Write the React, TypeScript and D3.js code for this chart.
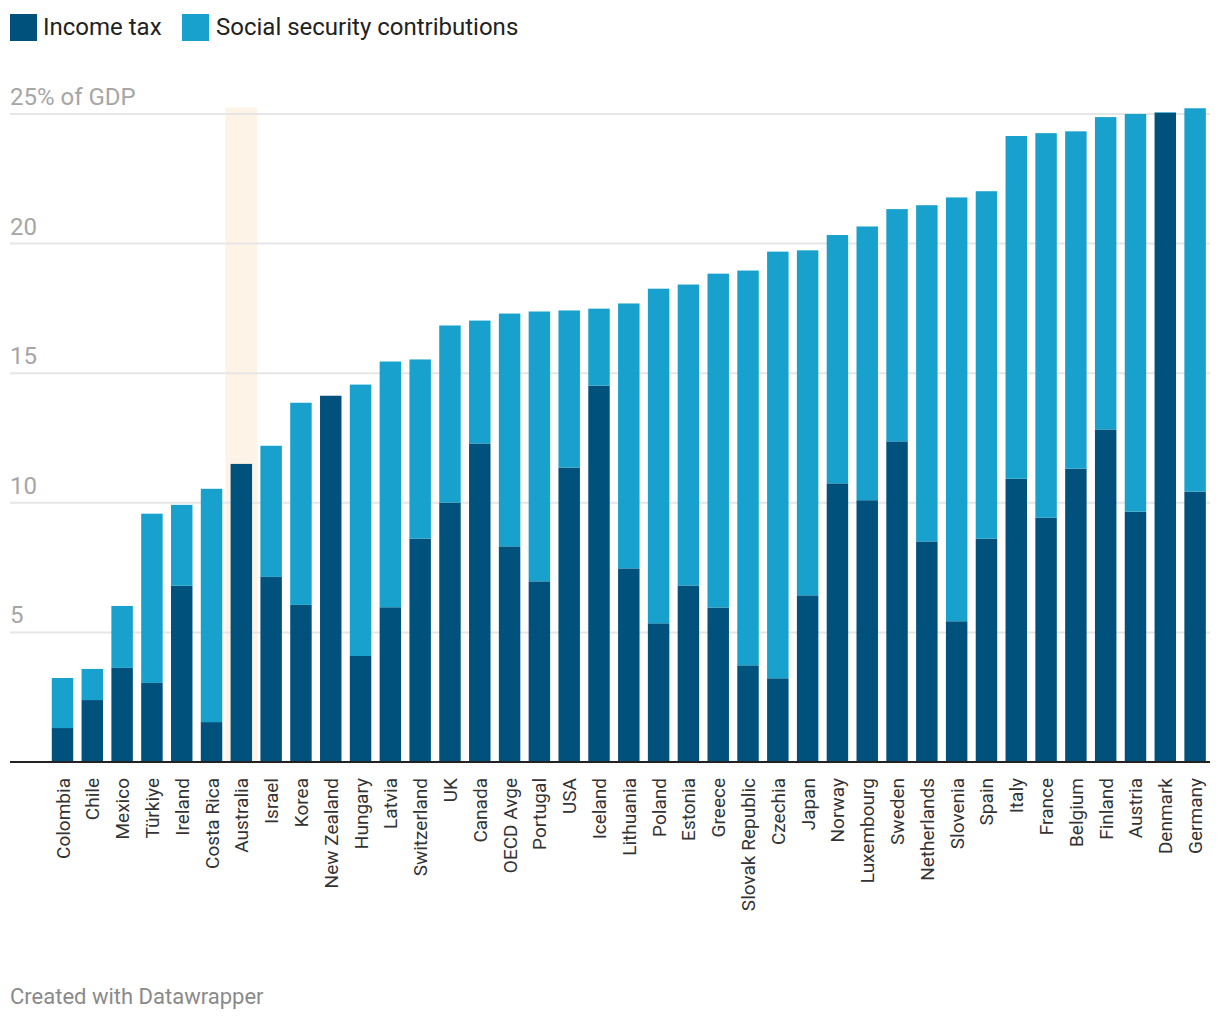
import React from "react";
import * as d3 from "d3";

const countries = ["Colombia","Chile","Mexico","Türkiye","Ireland","Costa Rica","Australia","Israel","Korea","New Zealand","Hungary","Latvia","Switzerland","UK","Canada","OECD Avge","Portugal","USA","Iceland","Lithuania","Poland","Estonia","Greece","Slovak Republic","Czechia","Japan","Norway","Luxembourg","Sweden","Netherlands","Slovenia","Spain","Italy","France","Belgium","Finland","Austria","Denmark","Germany"];
const incomeTax = [1.31,2.39,3.63,3.05,6.8,1.54,11.5,7.14,6.06,14.13,4.09,5.97,8.62,10.01,12.29,8.32,6.97,11.36,14.52,7.47,5.35,6.81,5.96,3.73,3.23,6.43,10.75,10.1,12.37,8.51,5.43,8.62,10.93,9.43,11.32,12.83,9.66,25.05,10.43];
const totals = [3.24,3.59,6.02,9.58,9.92,10.54,11.5,12.2,13.86,14.13,14.56,15.45,15.53,16.84,17.03,17.3,17.38,17.42,17.49,17.69,18.26,18.42,18.84,18.96,19.69,19.74,20.33,20.66,21.33,21.48,21.78,22.02,24.15,24.26,24.33,24.88,25.0,25.07,25.22];
const socialSecurity = totals.map((t, i) => Math.max(0, +(t - incomeTax[i]).toFixed(2)));
const yTicks = [5, 10, 15, 20, 25];
const highlighted = "Australia";
const seriesNames = ["Income tax", "Social security contributions"];

const W = 1220, H = 1020;
const FONT = "Roboto, 'Noto Sans', sans-serif";
const C_INCOME = "#00527c";
const C_SS = "#18a1cd";

export default function App() {
  const x = d3.scaleBand<string>().domain(countries).range([47.6, 1210]).paddingInner(0.28).paddingOuter(0.14);
  const y = d3.scaleLinear().domain([0, 25.25]).range([762, 107.5]);
  const bw = x.bandwidth();
  return (
    <svg width={W} height={H} style={{ position: "absolute", left: 0, top: 0, background: "#fff" }} fontFamily={FONT}>
      {/* legend */}
      <rect x={10} y={14} width={27} height={27} fill={C_INCOME} />
      <text x={43} y={35} fontSize={24} fill="#222">{seriesNames[0]}</text>
      <rect x={182} y={14} width={27} height={27} fill={C_SS} />
      <text x={216} y={35} fontSize={24} fill="#222">{seriesNames[1]}</text>

      {/* highlight */}
      <rect x={(x(highlighted) as number) + bw / 2 - 16} y={y(25.25)} width={32} height={y(0) - y(25.25)} fill="#fdf3e6" />

      {/* grid */}
      {yTicks.map((t) => (
        <g key={t}>
          <line x1={10} x2={1210} y1={y(t)} y2={y(t)} stroke="#e6e6e6" strokeWidth={2} />
          <text x={10} y={y(t) - 9} fontSize={24} fill="#a6a6a6">{t === 25 ? "25% of GDP" : t}</text>
        </g>
      ))}

      {/* bars */}
      {countries.map((c, i) => (
        <g key={c}>
          <rect x={x(c)} y={y(incomeTax[i])} width={bw} height={y(0) - y(incomeTax[i])} fill={C_INCOME} />
          {socialSecurity[i] > 0 && (
            <rect x={x(c)} y={y(incomeTax[i] + socialSecurity[i])} width={bw} height={y(incomeTax[i]) - y(incomeTax[i] + socialSecurity[i])} fill={C_SS} />
          )}
        </g>
      ))}

      {/* baseline */}
      <line x1={10} x2={1210} y1={y(0)} y2={y(0)} stroke="#222" strokeWidth={2} />

      {/* x labels */}
      {countries.map((c) => {
        const cx = (x(c) as number) + bw / 2;
        return (
          <text key={c} transform={`translate(${cx + 7},${778}) rotate(-90)`} textAnchor="end" fontSize={19} fill="#333">{c}</text>
        );
      })}

      <text x={10} y={1004} fontSize={22} fill="#8a8a8a">Created with Datawrapper</text>
    </svg>
  );
}
